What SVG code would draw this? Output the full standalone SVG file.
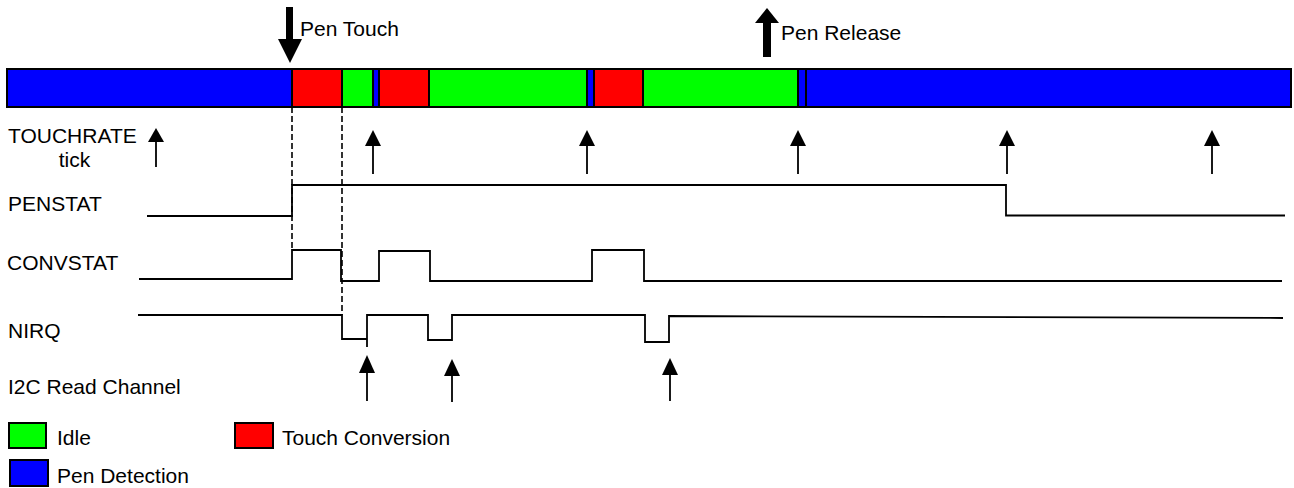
<svg xmlns="http://www.w3.org/2000/svg" xmlns:xlink="http://www.w3.org/1999/xlink" width="1294" height="488" viewBox="0 0 1294 488">
  <style>
    .lbl { font-family: "Liberation Sans", Arial, sans-serif; font-size: 21px; fill: #000; }
    .seg { stroke: #000; stroke-width: 2; }
    .blue { fill: #0000FF; }
    .red { fill: #FF0000; }
    .green { fill: #00FF00; }
    .sig { fill: none; stroke: #000; stroke-width: 1.8; stroke-linejoin: miter; }
    .dash { fill: none; stroke: #000; stroke-width: 1.6; stroke-dasharray: 6 3; }
    .shaft { stroke: #000; stroke-width: 1.8; }
    .head { fill: #000; }
  </style>
  <defs>
    <g id="upArrow">
      <polygon class="head" points="0,0 -8,16 8,16"/>
      <line class="shaft" x1="0" y1="15" x2="0" y2="44"/>
    </g>
  </defs>
  <rect width="1294" height="488" fill="#fff"/>

  <g id="state-bar">
    <rect class="seg blue" x="7" y="69" width="285" height="38"/>
    <rect class="seg red" x="292" y="69" width="50" height="38"/>
    <rect class="seg green" x="342" y="69" width="31" height="38"/>
    <rect class="seg blue" x="373" y="69" width="6" height="38"/>
    <rect class="seg red" x="379" y="69" width="50" height="38"/>
    <rect class="seg green" x="429" y="69" width="158" height="38"/>
    <rect class="seg blue" x="587" y="69" width="7" height="38"/>
    <rect class="seg red" x="594" y="69" width="49" height="38"/>
    <rect class="seg green" x="643" y="69" width="155" height="38"/>
    <rect class="seg blue" x="798" y="69" width="8" height="38"/>
    <rect class="seg blue" x="806" y="69" width="485" height="38"/>
  </g>

  <g id="pen-touch">
    <rect x="286" y="7" width="7" height="33" fill="#000"/>
    <polygon points="278,39 302,39 290,63" fill="#000"/>
    <text class="lbl" x="300" y="36">Pen Touch</text>
  </g>

  <g id="pen-release">
    <polygon points="755,23 779,23 767,8" fill="#000"/>
    <rect x="763" y="22" width="8" height="35" fill="#000"/>
    <text class="lbl" x="781" y="40">Pen Release</text>
  </g>

  <g id="touchrate">
    <text class="lbl" x="8" y="143">TOUCHRATE</text>
    <text class="lbl" x="74.5" y="167" text-anchor="middle">tick</text>
    <g>
      <polygon class="head" points="156,128 148,142 164,142"/>
      <line class="shaft" x1="156" y1="141" x2="156" y2="167"/>
    </g>
    <use xlink:href="#upArrow" x="373" y="130"/>
    <use xlink:href="#upArrow" x="587" y="130"/>
    <use xlink:href="#upArrow" x="798" y="130"/>
    <use xlink:href="#upArrow" x="1007" y="130"/>
    <use xlink:href="#upArrow" x="1212" y="130"/>
  </g>

  <g id="penstat">
    <text class="lbl" x="8" y="211">PENSTAT</text>
    <polyline class="sig" points="147,216 292,216 292,185 1006,185 1006,215.5 1285,215.5"/>
  </g>

  <g id="convstat">
    <text class="lbl" x="7" y="270">CONVSTAT</text>
    <polyline class="sig" points="139,279 292,279 292,250 341,250 341,281 379,281 379,251 430,251 430,281 592,281 592,250 644,250 644,281 1282,281"/>
  </g>

  <g id="nirq">
    <text class="lbl" x="8" y="338">NIRQ</text>
    <polyline class="sig" points="138,315 342,315 342,339 367,339"/>
    <line class="sig" x1="367" y1="347" x2="367" y2="314"/>
    <polyline class="sig" points="367,315 428,315 428,340 452,340 452,315 645,315 645,342 669,342 669,316 1283,318"/>
  </g>

  <g id="i2c-read">
    <text class="lbl" x="8" y="394">I2C Read Channel</text>
    <g>
      <polygon class="head" points="367,355 359,373 375,373"/>
      <line class="shaft" x1="367" y1="372" x2="367" y2="401"/>
    </g>
    <g>
      <polygon class="head" points="452,359 444,376 460,376"/>
      <line class="shaft" x1="452" y1="375" x2="452" y2="402"/>
    </g>
    <g>
      <polygon class="head" points="670,358 662,375 678,375"/>
      <line class="shaft" x1="670" y1="374" x2="670" y2="401"/>
    </g>
  </g>

  <g id="connectors">
    <line class="dash" x1="292" y1="107" x2="292" y2="250"/>
    <line class="dash" x1="342" y1="107" x2="342" y2="315"/>
  </g>

  <g id="legend">
    <g id="legend-idle">
      <rect class="seg green" x="9" y="423" width="37" height="25"/>
      <text class="lbl" x="57" y="445">Idle</text>
    </g>
    <g id="legend-touch">
      <rect class="seg red" x="235" y="423" width="38" height="25"/>
      <text class="lbl" x="282" y="445">Touch Conversion</text>
    </g>
    <g id="legend-pen">
      <rect class="seg blue" x="10" y="460" width="38" height="26"/>
      <text class="lbl" x="57" y="483">Pen Detection</text>
    </g>
  </g>
</svg>
